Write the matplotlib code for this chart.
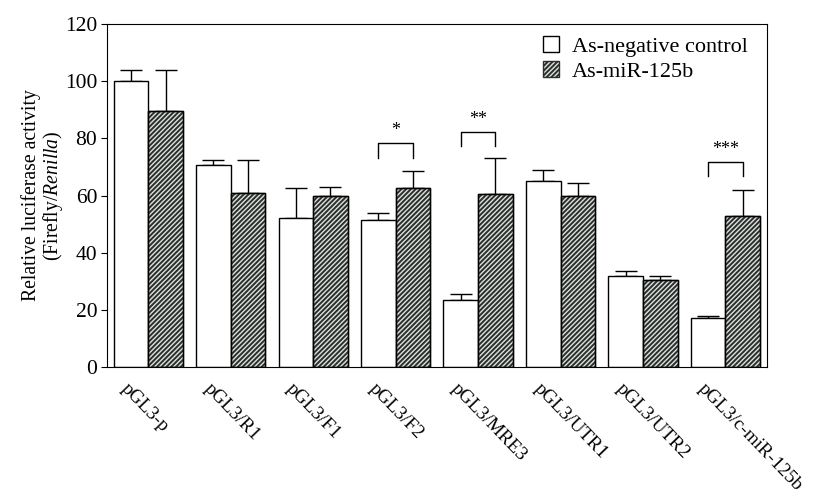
import matplotlib as mpl
mpl.use("Agg")
import matplotlib.pyplot as plt
import matplotlib.transforms as mtransforms
import numpy as np

plt.rcParams['font.family'] = ['Liberation Serif', 'DejaVu Serif']
plt.rcParams['mathtext.fontset'] = 'custom'
plt.rcParams['mathtext.rm'] = 'Liberation Serif'
plt.rcParams['mathtext.it'] = 'Liberation Serif:italic'
plt.rcParams['hatch.linewidth'] = 1.4

constructs = ["pGL3-p", "pGL3/R1", "pGL3/F1", "pGL3/F2", "pGL3/MRE3",
              "pGL3/UTR1", "pGL3/UTR2", "pGL3/c-miR-125b"]
control = [100, 70.7, 52, 51.5, 23.5, 65, 32, 17]
control_err = [4, 1.8, 10.5, 2.5, 2, 4, 1.5, 1]
mir125b = [89.5, 61, 60, 62.5, 60.5, 60, 30.5, 53]
mir125b_err = [14.5, 11.5, 3, 6, 12.5, 4.5, 1.5, 9]

# significance brackets: group index, bracket height, label
sig_groups = [3, 4, 7]
sig_heights = [78.3, 82.2, 71.7]
sig_labels = ["*", "**", "***"]

fig = plt.figure(figsize=(8.2, 5.01), dpi=100)
ax = fig.add_axes([0.1305, 0.2675, 0.8045, 0.6845])

x = np.arange(len(constructs))
w = 0.42

ax.bar(x - w/2, control, w, color='white', edgecolor='black', linewidth=1,
       label='As-negative control', zorder=2)
ax.bar(x + w/2, mir125b, w, color='#dde1dd', edgecolor='#2b2f2b', hatch='///////',
       linewidth=1, label='As-miR-125b', zorder=2)
ax.bar(x + w/2, mir125b, w, color='none', edgecolor='black', linewidth=1, zorder=3)

ax.errorbar(x - w/2, control, yerr=[np.zeros(len(x)), control_err], fmt='none',
            ecolor='black', elinewidth=1, capsize=8, capthick=1, zorder=1)
ax.errorbar(x + w/2, mir125b, yerr=[np.zeros(len(x)), mir125b_err], fmt='none',
            ecolor='black', elinewidth=1, capsize=8, capthick=1, zorder=1)

for g, h, s in zip(sig_groups, sig_heights, sig_labels):
    x0, x1 = g - w/2, g + w/2
    ax.plot([x0, x0, x1, x1], [h - 5, h, h, h - 5], color='black', lw=1)
    ax.text(g, h + 1.5, s, ha='center', va='bottom', fontsize=13)

ax.set_xlim(-0.5, len(constructs) - 0.5)
ax.set_ylim(0, 120)
ax.set_yticks(np.arange(0, 121, 20))
ax.tick_params(axis='y', labelsize=15.5, direction='out', length=4, pad=3)
ax.tick_params(axis='x', length=0)
ax.set_xticks(x)
offset = mtransforms.ScaledTranslation(-13/72, -6/72, fig.dpi_scale_trans)
ax.set_xticklabels(constructs, rotation=-46, ha='left', va='top',
                   rotation_mode='anchor', fontsize=13.8)
for lab in ax.get_xticklabels():
    lab.set_transform(lab.get_transform() + offset)

ax.set_ylabel("Relative luciferase activity\n(Firefly/$\\it{Renilla}$)",
              fontsize=14.2, labelpad=0, linespacing=1.0)

ax.legend(loc='upper right', frameon=False, fontsize=16, handlelength=0.7,
          handleheight=0.7, handletextpad=0.6, borderaxespad=0.3,
          bbox_to_anchor=(0.995, 1.01), labelspacing=0.2)

plt.savefig("out.png", dpi=100)
